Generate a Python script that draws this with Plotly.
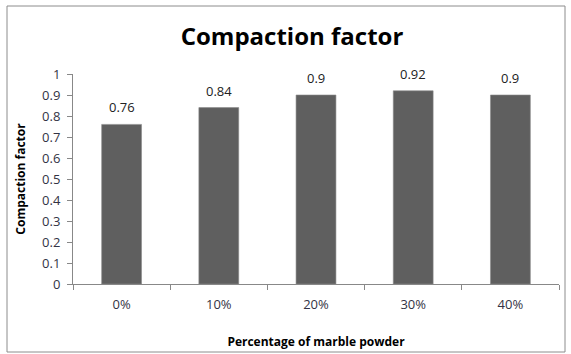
import plotly.graph_objects as go

categories = ["0%", "10%", "20%", "30%", "40%"]
values = [0.76, 0.84, 0.9, 0.92, 0.9]
value_labels = ["0.76", "0.84", "0.9", "0.92", "0.9"]
y_ticks = [0, 0.1, 0.2, 0.3, 0.4, 0.5, 0.6, 0.7, 0.8, 0.9, 1]
y_tick_labels = ["0", "0.1", "0.2", "0.3", "0.4", "0.5", "0.6", "0.7", "0.8", "0.9", "1"]

W, H = 571, 354
L, R, T, B = 73, 12, 74, 70
pw, ph = W - L - R, H - T - B

def px2x(px):
    return (px - L) / pw

def py2y(py):
    return (H - B - py) / ph

fig = go.Figure(go.Bar(
    x=categories, y=values,
    marker=dict(color="#5f5f5f", line=dict(color="#8a8a8a", width=0.6)),
))

for c, v, t in zip(categories, values, value_labels):
    fig.add_annotation(x=c, y=v, text=t, showarrow=False, yanchor="bottom", yshift=6,
                       font=dict(family="Open Sans, Liberation Sans", size=13, color="#222222"))

fig.update_layout(
    width=W, height=H,
    margin=dict(l=L, r=R, t=T, b=B, autoexpand=False),
    paper_bgcolor="white", plot_bgcolor="white",
    bargap=0.59,
    showlegend=False,
    title=dict(text="<b>Compaction factor</b>", x=292 / W, xanchor="center",
               y=1 - 37 / H, yanchor="middle",
               font=dict(family="Open Sans, Liberation Sans", size=24, color="#000000")),
    font=dict(family="Open Sans, Liberation Sans", color="#333333"),
)

fig.update_yaxes(
    range=[0, 1], tickvals=y_ticks, ticktext=y_tick_labels,
    showgrid=False, zeroline=False, automargin=False,
    showline=True, linecolor="#888888", linewidth=1,
    ticks="outside", ticklen=5, tickcolor="#888888", ticklabelstandoff=4,
    tickfont=dict(size=13, color="#333344"),
    title=dict(text="<b>Compaction factor</b>", font=dict(size=12, color="#000000"), standoff=13),
)
fig.update_xaxes(
    showgrid=False, zeroline=False, automargin=False,
    showline=True, linecolor="#888888", linewidth=1,
    ticks="outside", ticklen=5, tickcolor="#888888", tickson="boundaries",
    ticklabelstandoff=8,
    tickfont=dict(size=13, color="#333344"),
    title=dict(text="<b>Percentage of marble powder</b>", font=dict(size=12, color="#000000"), standoff=26),
)

fig.add_shape(type="rect", xref="paper", yref="paper",
              x0=px2x(7), x1=px2x(565), y0=py2y(352), y1=py2y(6),
              line=dict(color="#8c8c8c", width=1), fillcolor="rgba(0,0,0,0)", layer="below")

fig.write_html("out.html", config={"displayModeBar": False},
               post_script="document.body.style.margin='0';")
